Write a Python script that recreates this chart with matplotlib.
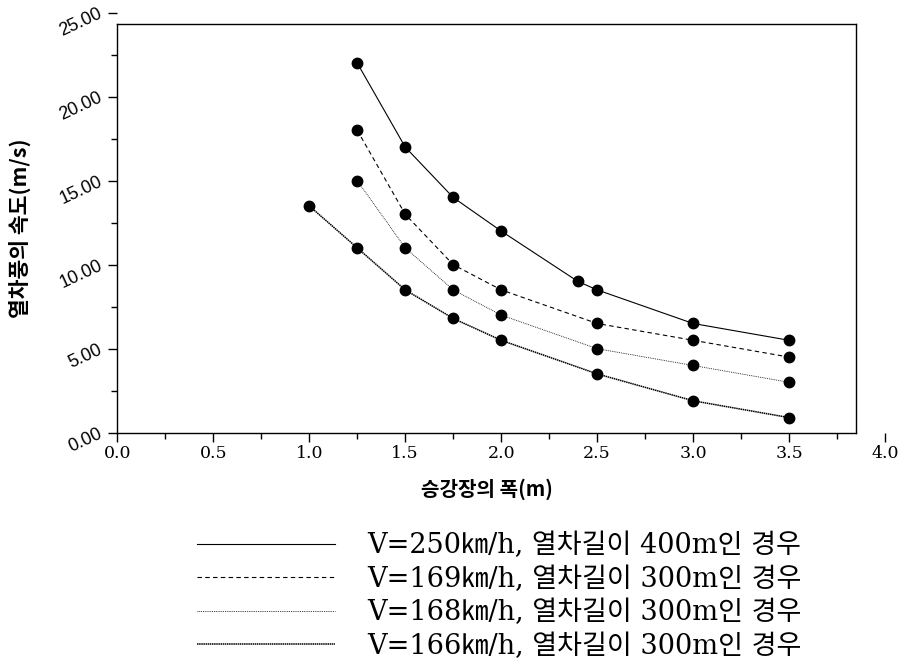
import matplotlib
matplotlib.use("Agg")
import matplotlib.pyplot as plt
from matplotlib.lines import Line2D
from matplotlib.ticker import MultipleLocator, FormatStrFormatter

plt.rcParams['font.family'] = ['DejaVu Sans', 'Noto Sans CJK KR']

# === DATA ===
x_250 = [1.25, 1.5, 1.75, 2.0, 2.4, 2.5, 3.0, 3.5]
y_250 = [22.0, 17.0, 14.0, 12.0, 9.0, 8.5, 6.5, 5.5]
x_169 = [1.25, 1.5, 1.75, 2.0, 2.5, 3.0, 3.5]
y_169 = [18.0, 13.0, 10.0, 8.5, 6.5, 5.5, 4.5]
x_168 = [1.25, 1.5, 1.75, 2.0, 2.5, 3.0, 3.5]
y_168 = [15.0, 11.0, 8.5, 7.0, 5.0, 4.0, 3.0]
x_166 = [1.0, 1.25, 1.5, 1.75, 2.0, 2.5, 3.0, 3.5]
y_166 = [13.5, 11.0, 8.5, 6.8, 5.5, 3.5, 1.9, 0.9]

labels = [
    "V=250㎞/h, 열차길이 400m인 경우",
    "V=169㎞/h, 열차길이 300m인 경우",
    "V=168㎞/h, 열차길이 300m인 경우",
    "V=166㎞/h, 열차길이 300m인 경우",
]
styles = ["-", (0, (4, 3)), (0, (1, 1.2)), (0, (1, 0.4))]
widths = [0.8, 0.8, 0.6, 1.1]

# the box stops short of the last ticks
X_FRAME = 3.85
Y_FRAME = 24.3

CJK = ["Noto Sans CJK KR", "DejaVu Sans"]

fig = plt.figure(figsize=(8.99, 6.66), dpi=100)
ax = fig.add_axes([0.1305, 0.3503, 0.854, 0.6307])

series = [(x_250, y_250), (x_169, y_169), (x_168, y_168), (x_166, y_166)]
for (xs, ys), ls, lw in zip(series, styles, widths):
    ax.plot(xs, ys, color="black", linestyle=ls, linewidth=lw,
            marker="o", markersize=7.5, markerfacecolor="black",
            markeredgecolor="black", clip_on=False)

ax.set_xlim(0, 4)
ax.set_ylim(0, 25)
ax.xaxis.set_major_locator(MultipleLocator(0.5))
ax.xaxis.set_minor_locator(MultipleLocator(0.25))
ax.yaxis.set_major_locator(MultipleLocator(5))
ax.yaxis.set_minor_locator(MultipleLocator(2.5))
ax.xaxis.set_major_formatter(FormatStrFormatter("%.1f"))
ax.yaxis.set_major_formatter(FormatStrFormatter("%.2f"))

ax.spines["left"].set_bounds(0, Y_FRAME)
ax.spines["bottom"].set_bounds(0, X_FRAME)
ax.spines["top"].set_position(("data", Y_FRAME))
ax.spines["top"].set_bounds(0, X_FRAME)
ax.spines["right"].set_position(("data", X_FRAME))
ax.spines["right"].set_bounds(0, Y_FRAME)
for s in ax.spines.values():
    s.set_linewidth(1.0)

ax.tick_params(which="major", direction="out", length=6.5, width=1.0,
               top=False, right=False)
ax.tick_params(which="minor", direction="out", length=4, width=1.0,
               top=False, right=False)
ax.tick_params(axis="x", which="major", pad=2, labelsize=12.5,
               labelfontfamily="DejaVu Serif")
ax.tick_params(axis="y", which="major", pad=5, labelsize=13,
               labelfontfamily="Liberation Sans", labelrotation=25)
for lab in ax.get_yticklabels():
    lab.set_rotation_mode("anchor")
    lab.set_ha("right")
    lab.set_va("center")

ax.set_xlabel("승강장의 폭(m)", fontsize=14.5, fontweight="bold", family=CJK)
ax.set_ylabel("열차풍의 속도(m/s)", fontsize=15.5, fontweight="bold", family=CJK)
ax.xaxis.label.set_va("center")
ax.yaxis.label.set_va("center")
ax.xaxis.set_label_coords(X_FRAME / 8, -0.134)
ax.yaxis.set_label_coords(-0.1267, Y_FRAME / 50)

handles = [Line2D([], [], color="black", linestyle=ls, linewidth=lw)
           for ls, lw in zip(styles, widths)]
fig.legend(handles, labels, loc="upper left",
           bbox_to_anchor=(172.5 / 899, 1 - 508 / 666), frameon=False,
           handlelength=5.1, handletextpad=1.18, labelspacing=0.24,
           prop={"family": ["DejaVu Serif", "Noto Sans CJK KR"], "size": 19.5})

fig.savefig("out.png", dpi=100)
